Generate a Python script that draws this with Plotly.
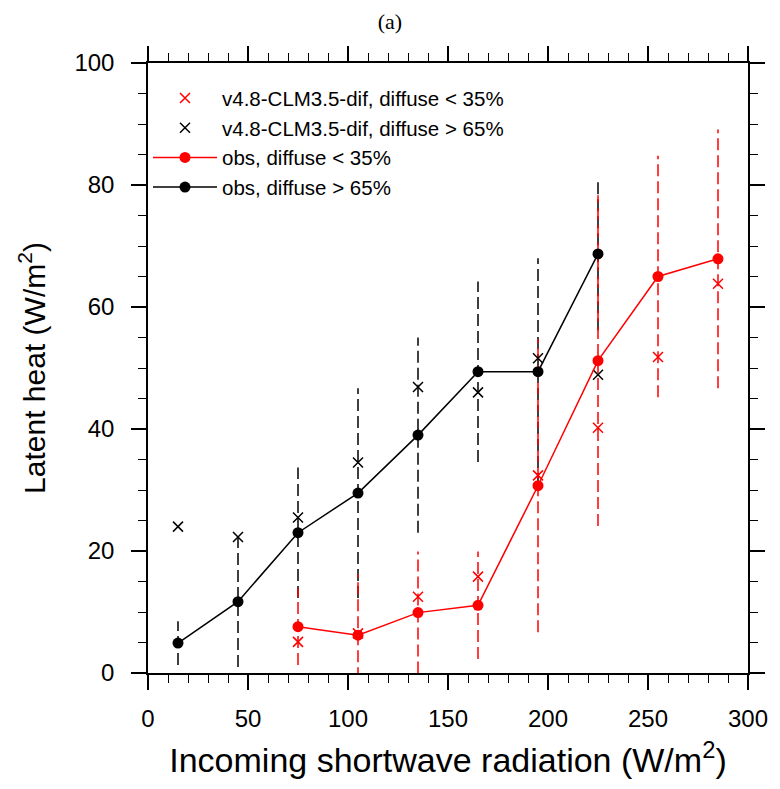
import plotly.graph_objects as go

# Diffuse < 35% (red)
x_lo = [75, 105, 135, 165, 195, 225, 255, 285]
obs_lo = [7.6, 6.2, 9.9, 11.1, 30.7, 51.2, 65.0, 67.9]
obs_lo_err = [6.3, 10.0, 10.0, 8.8, 24.0, 27.1, 19.8, 21.2]
mod_lo = [5.1, 6.5, 12.5, 15.8, 32.4, 40.2, 51.8, 63.8]

# Diffuse > 65% (black)
x_hi = [15, 45, 75, 105, 135, 165, 195, 225]
obs_hi = [4.9, 11.7, 23.0, 29.5, 39.0, 49.4, 49.4, 68.7]
obs_hi_err = [3.6, 10.7, 10.7, 17.2, 16.0, 14.8, 18.6, 12.5]
mod_hi = [24.0, 22.3, 25.5, 34.5, 46.9, 46.0, 51.6, 48.9]

RED = "#ff0000"
BLACK = "#000000"
FONT = "Liberation Sans"


def err_segments(xs, ys, es):
    sx, sy = [], []
    for x, y, e in zip(xs, ys, es):
        sx += [x, x, None]
        sy += [y - e, y + e, None]
    return sx, sy


fig = go.Figure()

bx, by = err_segments(x_hi, obs_hi, obs_hi_err)
fig.add_trace(go.Scatter(x=bx, y=by, mode="lines", showlegend=False, hoverinfo="skip",
                         line=dict(color=BLACK, width=1.5, dash="12px,5px")))
rx, ry = err_segments(x_lo, obs_lo, obs_lo_err)
fig.add_trace(go.Scatter(x=rx, y=ry, mode="lines", showlegend=False, hoverinfo="skip",
                         line=dict(color=RED, width=1.5, dash="12px,5px")))

fig.add_trace(go.Scatter(x=x_lo, y=mod_lo, mode="markers",
                         name="v4.8-CLM3.5-dif, diffuse < 35%",
                         marker=dict(symbol="x-thin-open", size=10, color=RED,
                                     line=dict(color=RED, width=1.5))))
fig.add_trace(go.Scatter(x=x_hi, y=mod_hi, mode="markers",
                         name="v4.8-CLM3.5-dif, diffuse > 65%",
                         marker=dict(symbol="x-thin-open", size=10, color=BLACK,
                                     line=dict(color=BLACK, width=1.5))))
fig.add_trace(go.Scatter(x=x_lo, y=obs_lo, mode="lines+markers",
                         name="obs, diffuse < 35%",
                         line=dict(color=RED, width=1.5),
                         marker=dict(symbol="circle", size=11, color=RED)))
fig.add_trace(go.Scatter(x=x_hi, y=obs_hi, mode="lines+markers",
                         name="obs, diffuse > 65%",
                         line=dict(color=BLACK, width=1.5),
                         marker=dict(symbol="circle", size=11, color=BLACK)))

axis_common = dict(
    showgrid=False, zeroline=False, showline=True, linecolor=BLACK, linewidth=1.5,
    mirror="ticks", ticks="outside", ticklen=15, tickwidth=1.5, tickcolor=BLACK,
    tickfont=dict(family=FONT, size=24, color=BLACK),
)

fig.update_xaxes(range=[0, 300], dtick=50, tick0=0,
                 minor=dict(dtick=10, ticks="outside", ticklen=8, tickwidth=1.2, tickcolor=BLACK),
                 title=dict(text="Incoming shortwave radiation (W/m<sup>2</sup>)",
                            font=dict(family=FONT, size=34, color=BLACK), standoff=18),
                 ticklabelstandoff=8,
                 **axis_common)
fig.update_yaxes(range=[0, 100], dtick=20, tick0=0,
                 minor=dict(dtick=5, ticks="outside", ticklen=8, tickwidth=1.2, tickcolor=BLACK),
                 title=dict(text="Latent heat (W/m<sup>2</sup>)",
                            font=dict(family=FONT, size=30, color=BLACK), standoff=20),
                 ticklabelstandoff=12,
                 **axis_common)

fig.update_layout(
    width=780, height=789,
    margin=dict(l=148, r=24, t=63, b=116),
    paper_bgcolor="white", plot_bgcolor="white",
    title=dict(text="(a)", x=0.5, xanchor="center", y=0.973, yanchor="middle",
               font=dict(family="Liberation Serif", size=22, color=BLACK)),
    legend=dict(x=0.0, y=0.975, xanchor="left", yanchor="top",
                bgcolor="rgba(0,0,0,0)", font=dict(family=FONT, size=20.5, color=BLACK),
                itemwidth=64, tracegroupgap=0),
    showlegend=True,
)

fig.write_html("out.html")
